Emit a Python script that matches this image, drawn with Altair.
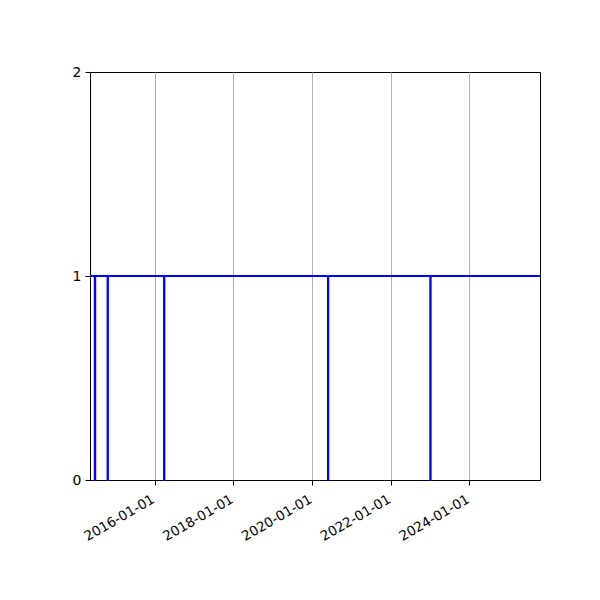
import altair as alt
import pandas as pd

start_date = "2014-05-12"
end_date = "2025-10-17"
drop_dates = ["2014-06-26", "2014-10-22", "2016-03-29", "2020-05-28", "2023-01-03"]
recover_dates = ["2014-06-29", "2014-10-25", "2016-04-01", "2020-05-31", "2023-01-06"]
tick_years = [2016, 2018, 2020, 2022, 2024]

rows = [{"date": start_date, "value": 1}]
for d, r in zip(drop_dates, recover_dates):
    rows.append({"date": d, "value": 0})
    rows.append({"date": r, "value": 1})
rows.append({"date": end_date, "value": 1})
df = pd.DataFrame(rows)

def dt(s):
    y, m, d = map(int, s.split("-"))
    return alt.DateTime(year=y, month=m, date=d, utc=True)

chart = alt.Chart(df).mark_line(
    interpolate="step-after", color="#0000ff", strokeWidth=2
).encode(
    x=alt.X("date:T",
            scale=alt.Scale(type="utc", domain=[dt(start_date), dt(end_date)]),
            axis=alt.Axis(title=None,
                          values=[alt.DateTime(year=y, month=1, date=1, utc=True) for y in tick_years],
                          format="%Y-%m-%d", labelAngle=-30, labelAlign="right",
                          labelBaseline="top", grid=True, gridColor="#b0b0b0",
                          gridWidth=1, domainColor="black", tickColor="black",
                          tickSize=5, labelFontSize=13.5, labelColor="black",
                          labelFont="DejaVu Sans", labelPadding=7, labelOffset=-5,
                          labelOverlap=False, labelFlush=False)),
    y=alt.Y("value:Q",
            scale=alt.Scale(domain=[0, 2], nice=False, zero=True),
            axis=alt.Axis(title=None, tickCount=2, format="d", grid=False,
                          domainColor="black", tickColor="black", tickSize=5,
                          labelFontSize=14, labelColor="black",
                          labelFont="DejaVu Sans", labelPadding=4,
                          labelOverlap=False, labelFlush=False)),
).properties(
    width=450, height=408,
    autosize=alt.AutoSizeParams(type="none"),
    padding={"left": 82, "top": 64, "right": 52, "bottom": 112},
).configure_view(stroke="black", strokeWidth=1)

chart.save("out.html", embed_options={"renderer": "svg", "actions": False})
